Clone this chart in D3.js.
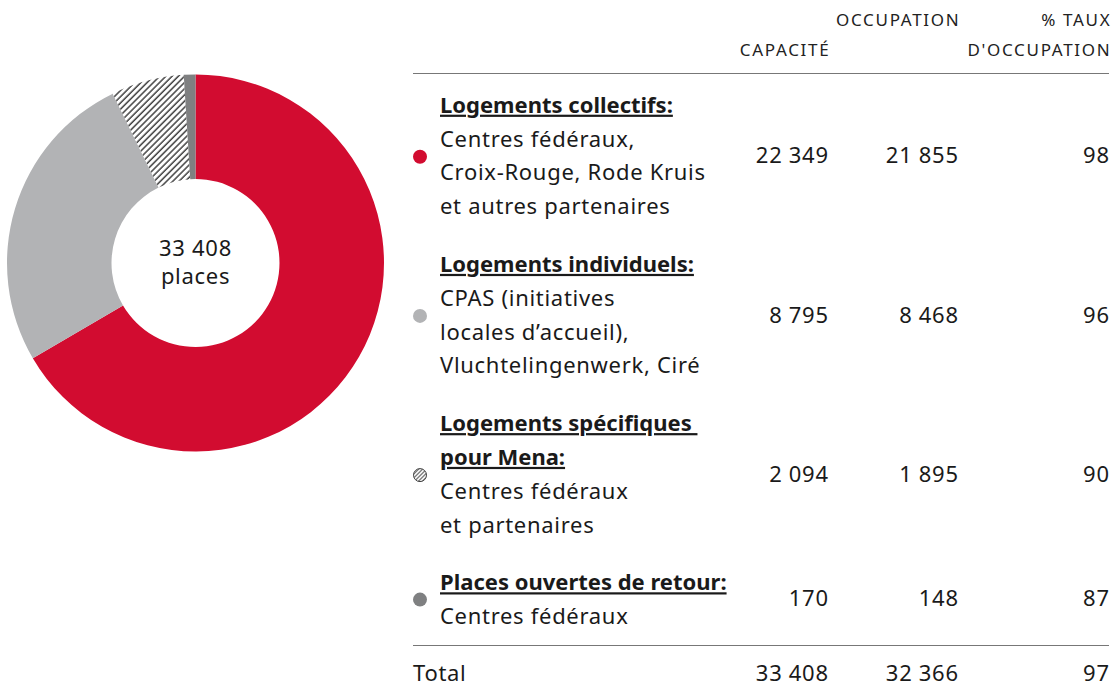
<!DOCTYPE html>
<html>
<head>
<meta charset="utf-8">
<script src="https://cdn.jsdelivr.net/npm/d3@7"></script>
<style>
  body { margin: 0; background: #fff; }
  svg { font-family: "Noto Sans", Lato, sans-serif; }
  .head { font-size: 17px; letter-spacing: 1.7px; fill: #222; }
  .txt { font-size: 22px; letter-spacing: 0.7px; fill: #1a1a1a; }
  .titre { font-weight: bold; letter-spacing: 0; text-decoration: underline; }
</style>
</head>
<body>
<div id="chart"></div>
<script>
// donnees du tableau
var categories = ["collectifs", "individuels", "mena", "retour"];
var titres = [
  ["Logements collectifs:"],
  ["Logements individuels:"],
  ["Logements spécifiques ", "pour Mena:"],
  ["Places ouvertes de retour:"]
];
var descriptions = [
  ["Centres fédéraux,", "Croix-Rouge, Rode Kruis", "et autres partenaires"],
  ["CPAS (initiatives", "locales d’accueil),", "Vluchtelingenwerk, Ciré"],
  ["Centres fédéraux", "et partenaires"],
  ["Centres fédéraux"]
];
var capacite = [22349, 8795, 2094, 170];
var occupation = [21855, 8468, 1895, 148];
var taux = [98, 96, 90, 87];
var total = { capacite: 33408, occupation: 32366, taux: 97 };
var couleurs = ["#d20c30", "#b2b3b5", "url(#hachure)", "#7f8081"];

var width = 1119, height = 684;

var svg = d3.select("#chart")
  .append("svg")
  .attr("width", width)
  .attr("height", height);

// motif hachure
var defs = svg.append("defs");
var pat = defs.append("pattern")
  .attr("id", "hachure")
  .attr("patternUnits", "userSpaceOnUse")
  .attr("width", 4.4)
  .attr("height", 10)
  .attr("patternTransform", "rotate(45)");
pat.append("rect").attr("width", 4.4).attr("height", 10).attr("fill", "#fff");
pat.append("line")
  .attr("x1", 1).attr("y1", 0).attr("x2", 1).attr("y2", 10)
  .attr("stroke", "#333").attr("stroke-width", 1.4);

var pat2 = defs.append("pattern")
  .attr("id", "hachure2")
  .attr("patternUnits", "userSpaceOnUse")
  .attr("width", 2.8)
  .attr("height", 10)
  .attr("patternTransform", "rotate(45)");
pat2.append("rect").attr("width", 2.8).attr("height", 10).attr("fill", "#fff");
pat2.append("line")
  .attr("x1", 0.6).attr("y1", 0).attr("x2", 0.6).attr("y2", 10)
  .attr("stroke", "#444").attr("stroke-width", 1);

// donut (la petite tranche a une taille minimale de 1 %)
var cx = 195.5, cy = 263;
var outerR = 188.5, innerR = 84;
var minPart = total.capacite * 0.01;

var pie = d3.pie().sort(null).value(function(d) { return Math.max(d, minPart); });
var arc = d3.arc().innerRadius(innerR).outerRadius(outerR);

var donut = svg.append("g")
  .attr("transform", "translate(" + cx + "," + cy + ")");

donut.selectAll("path")
  .data(pie(capacite))
  .enter()
  .append("path")
  .attr("d", arc)
  .attr("fill", function(d, i) { return couleurs[i]; });

function fmt(v) {
  return d3.format(",")(v).replace(/,/g, " ");
}

donut.append("text")
  .attr("class", "txt")
  .attr("text-anchor", "middle")
  .attr("y", -7)
  .text(fmt(total.capacite));
donut.append("text")
  .attr("class", "txt")
  .attr("text-anchor", "middle")
  .attr("y", 21)
  .text("places");

// tableau
var xLeft = 413, xRight = 1109;
var xText = 440, xDot = 420;
var xCap = 828.7, xOcc = 958.7, xTaux = 1109.7;
var lineH = 33.8, rowGap = 24;

// entete
var head = svg.append("g");
var hx = 1.7;
head.append("text").attr("class", "head").attr("x", xOcc + hx).attr("y", 26)
  .attr("text-anchor", "end").text("OCCUPATION");
head.append("text").attr("class", "head").attr("x", xTaux + hx).attr("y", 26)
  .attr("text-anchor", "end").text("% TAUX");
head.append("text").attr("class", "head").attr("x", xCap + hx).attr("y", 56)
  .attr("text-anchor", "end").text("CAPACITÉ");
head.append("text").attr("class", "head").attr("x", xTaux + hx).attr("y", 56)
  .attr("text-anchor", "end").text("D'OCCUPATION");

svg.append("line")
  .attr("x1", xLeft).attr("x2", xRight)
  .attr("y1", 73.5).attr("y2", 73.5)
  .attr("stroke", "#777").attr("stroke-width", 1);

var y = 105;
categories.forEach(function(c, i) {
  var lignes = titres[i].map(function(t) { return { t: t, bold: true }; })
    .concat(descriptions[i].map(function(t) { return { t: t, bold: false }; }));
  var yStart = y;
  var g = svg.append("g").attr("class", "row " + c);
  lignes.forEach(function(l, j) {
    g.append("text")
      .attr("class", "txt" + (l.bold ? " titre" : ""))
      .attr("x", xText)
      .attr("y", yStart + j * lineH)
      .attr("dy", "0.35em")
      .attr("xml:space", "preserve")
      .text(l.t);
  });
  var yEnd = yStart + (lignes.length - 1) * lineH;
  if (i === 3) yEnd = yStart + 32;
  var ym = (yStart + yEnd) / 2;

  if (i === 2) {
    g.append("circle").attr("cx", xDot).attr("cy", ym + 1).attr("r", 6.5)
      .attr("fill", "url(#hachure2)").attr("stroke", "#444").attr("stroke-width", 1);
  } else {
    g.append("circle").attr("cx", xDot).attr("cy", ym + 1).attr("r", 7)
      .attr("fill", couleurs[i]);
  }

  [[xCap, fmt(capacite[i])], [xOcc, fmt(occupation[i])], [xTaux, taux[i]]]
    .forEach(function(p) {
      g.append("text")
        .attr("class", "txt")
        .attr("x", p[0])
        .attr("y", ym)
        .attr("dy", "0.35em")
        .attr("text-anchor", "end")
        .text(p[1]);
    });

  y = yEnd + lineH + rowGap;
});

svg.append("line")
  .attr("x1", xLeft).attr("x2", xRight)
  .attr("y1", 645.5).attr("y2", 645.5)
  .attr("stroke", "#777").attr("stroke-width", 1);

var tot = svg.append("g");
[[xLeft, "Total", "start"], [xCap, fmt(total.capacite), "end"],
 [xOcc, fmt(total.occupation), "end"], [xTaux, total.taux, "end"]]
  .forEach(function(p) {
    tot.append("text")
      .attr("class", "txt")
      .attr("x", p[0])
      .attr("y", 673)
      .attr("dy", "0.35em")
      .attr("text-anchor", p[2])
      .text(p[1]);
  });
</script>
</body>
</html>
